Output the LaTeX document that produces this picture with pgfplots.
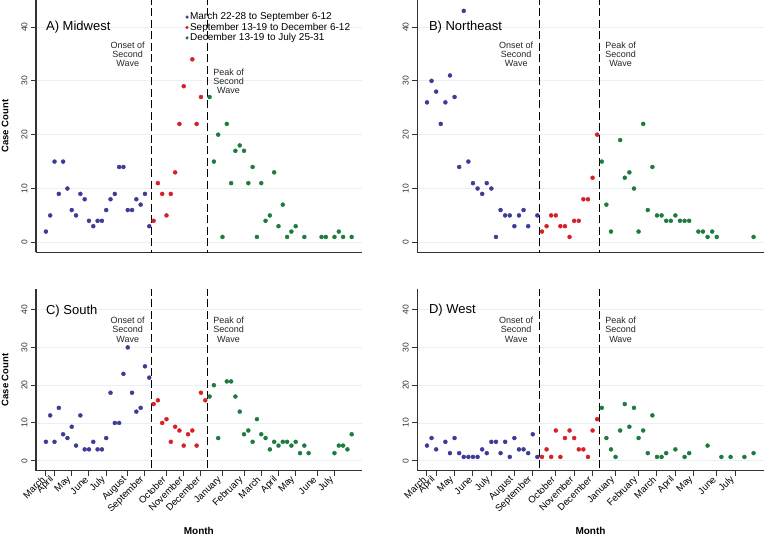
\documentclass[border=0pt]{standalone}
\usepackage{fontspec}
\setmainfont{Liberation Sans}
\usepackage{pgfplots}
\pgfplotsset{compat=1.18}
\definecolor{cblue}{RGB}{60,60,150}
\definecolor{cred}{RGB}{214,32,40}
\definecolor{cgreen}{RGB}{30,123,63}
\definecolor{gridc}{RGB}{232,240,242}
\definecolor{axc}{RGB}{50,50,50}

\tikzset{
  wave/.style={black, line width=1.4pt, dash pattern=on 8pt off 3.5pt},
  ann/.style={align=center, font=\fontsize{9}{9.3}\selectfont, text=black!85},
  ttl/.style={anchor=west, inner sep=0pt, font=\fontsize{13}{14}\selectfont},
}
\pgfplotsset{
  panel/.style={
    scale only axis,
    axis x line*=bottom, axis y line*=left,
    axis line style={axc, line width=1.2pt},
    every tick/.style={axc, line width=1pt},
    tick align=outside, major tick length=5pt,
    ytick={0,10,20,30,40},
    ymajorgrids, grid style={gridc, line width=0.8pt},
    /pgf/number format/assume math mode=true,
    yticklabel style={rotate=90, anchor=south, font=\fontsize{8.5}{9}\selectfont, text=axc},
  },
  toprow/.style={panel, ymin=-1.85, ymax=45, height=252.2pt, xtick=\empty},
  botrow/.style={panel, ymin=-2.65, ymax=45.4, height=181.4pt,
     xtick={0,2,6,10,14,19,23,28,32,36,41,46,50,54,58,63,67},
     xticklabels={March,April,May,June,July,August,September,October,November,December,January,February,March,April,May,June,July},
     xticklabel style={rotate=45, anchor=east, font=\fontsize{9.5}{10}\selectfont},
     xlabel={Month},
     xlabel style={font=\bfseries\fontsize{10}{12}\selectfont, at={(axis description cs:0.5,-0.332)}, anchor=center},
  },
  leftcol/.style={xmin=-2.3, xmax=73.3, width=325.6pt,
     ylabel={Case Count},
     ylabel style={font=\bfseries\fontsize{9.5}{11}\selectfont, at={(axis description cs:-0.095,0.5)}, anchor=center}},
  rightcol/.style={xmin=-2.1, xmax=73.2, width=346.4pt},
  ser/.style={only marks, mark=*, mark size=2pt, draw=#1, fill=#1, mark options={draw=#1, fill=#1}},
}

\begin{document}
\begin{tikzpicture}[x=1pt,y=1pt]
\useasboundingbox (0,0) rectangle (765,536);

% ---------------- A) Midwest
\begin{axis}[toprow, leftcol, at={(36pt,283.7pt)}, anchor=south west,
  legend style={draw=none, fill=none, at={(0.459,0.954)}, anchor=north west, inner sep=0pt,
     font=\fontsize{10}{10}\selectfont, nodes={inner sep=0.6pt, text height=7.3pt, text depth=1.9pt, anchor=west},
     row sep=0pt, column sep=1pt},
  legend cell align=left,
  legend image code/.code={\draw[#1, mark size=1.4pt] plot coordinates {(0pt,0pt)};}]
\addplot[ser=cblue] coordinates {(0,2)(1,5)(2,15)(3,9)(4,15)(5,10)(6,6)(7,5)(8,9)(9,8)(10,4)(11,3)(12,4)(13,4)(14,6)(15,8)(16,9)(17,14)(18,14)(19,6)(20,6)(21,8)(22,7)(23,9)(24,3)};
\addlegendentry{March 22-28 to September 6-12}
\addplot[ser=cred] coordinates {(25,4)(26,11)(27,9)(28,5)(29,9)(30,13)(31,22)(32,29)(34,34)(35,22)(36,27)};
\addlegendentry{September 13-19 to December 6-12}
\addplot[ser=cgreen] coordinates {(38,27)(39,15)(40,20)(41,1)(42,22)(43,11)(44,17)(45,18)(46,17)(47,11)(48,14)(49,1)(50,11)(51,4)(52,5)(53,13)(54,3)(55,7)(56,1)(57,2)(58,3)(60,1)(64,1)(65,1)(67,1)(68,2)(69,1)(71,1)};
\addlegendentry{December 13-19 to July 25-31}
\draw[wave] (axis cs:24.5,-5) -- (axis cs:24.5,50);
\draw[wave] (axis cs:37.5,-5) -- (axis cs:37.5,50);
\node[ttl] at (axis cs:0,40) {A) Midwest};
\node[ann] at (axis cs:19.0,34.9) {Onset of\\Second\\Wave};
\node[ann] at (axis cs:42.4,29.9) {Peak of\\Second\\Wave};
\end{axis}

% ---------------- B) Northeast
\begin{axis}[toprow, rightcol, at={(417.3pt,283.7pt)}, anchor=south west]
\addplot[ser=cblue] coordinates {(0,26)(1,30)(2,28)(3,22)(4,26)(5,31)(6,27)(7,14)(8,43)(9,15)(10,11)(11,10)(12,9)(13,11)(14,10)(15,1)(16,6)(17,5)(18,5)(19,3)(20,5)(21,6)(22,3)(24,5)};
\addplot[ser=cred] coordinates {(25,2)(26,3)(27,5)(28,5)(29,3)(30,3)(31,1)(32,4)(33,4)(34,8)(35,8)(36,12)(37,20)};
\addplot[ser=cgreen] coordinates {(38,15)(39,7)(40,2)(42,19)(43,12)(44,13)(45,10)(46,2)(47,22)(48,6)(49,14)(50,5)(51,5)(52,4)(53,4)(54,5)(55,4)(56,4)(57,4)(59,2)(60,2)(61,1)(62,2)(63,1)(71,1)};
\draw[wave] (axis cs:24.5,-5) -- (axis cs:24.5,50);
\draw[wave] (axis cs:37.5,-5) -- (axis cs:37.5,50);
\node[ttl] at (axis cs:0.4,40) {B) Northeast};
\node[ann] at (axis cs:19.4,34.9) {Onset of\\Second\\Wave};
\node[ann] at (axis cs:42.1,34.9) {Peak of\\Second\\Wave};
\end{axis}

% ---------------- C) South
\begin{axis}[botrow, leftcol, at={(36pt,65.3pt)}, anchor=south west]
\addplot[ser=cblue] coordinates {(0,5)(1,12)(2,5)(3,14)(4,7)(5,6)(6,9)(7,4)(8,12)(9,3)(10,3)(11,5)(12,3)(13,3)(14,6)(15,18)(16,10)(17,10)(18,23)(19,30)(20,18)(21,13)(22,14)(23,25)(24,22)};
\addplot[ser=cred] coordinates {(25,15)(26,16)(27,10)(28,11)(29,5)(30,9)(31,8)(32,4)(33,7)(34,8)(35,4)(36,18)(37,16)};
\addplot[ser=cgreen] coordinates {(38,17)(39,20)(40,6)(42,21)(43,21)(44,17)(45,13)(46,7)(47,8)(48,5)(49,11)(50,7)(51,6)(52,3)(53,5)(54,4)(55,5)(56,5)(57,4)(58,5)(59,2)(60,4)(61,2)(67,2)(68,4)(69,4)(70,3)(71,7)};
\draw[wave] (axis cs:24.5,-5) -- (axis cs:24.5,50);
\draw[wave] (axis cs:37.5,-5) -- (axis cs:37.5,50);
\node[ttl] at (axis cs:0,39.7) {C) South};
\node[ann] at (axis cs:19.0,34.7) {Onset of\\Second\\Wave};
\node[ann] at (axis cs:42.4,34.7) {Peak of\\Second\\Wave};
\end{axis}

% ---------------- D) West
\begin{axis}[botrow, rightcol, at={(417.3pt,65.3pt)}, anchor=south west]
\addplot[ser=cblue] coordinates {(0,4)(1,6)(2,3)(4,5)(5,2)(6,6)(7,2)(8,1)(9,1)(10,1)(11,1)(12,3)(13,2)(14,5)(15,5)(16,2)(17,5)(18,1)(19,6)(20,3)(21,3)(22,2)(23,7)(24,1)};
\addplot[ser=cred] coordinates {(25,1)(26,3)(27,1)(28,8)(29,1)(30,6)(31,8)(32,6)(33,3)(34,3)(35,1)(36,8)(37,11)};
\addplot[ser=cgreen] coordinates {(38,14)(39,6)(40,3)(41,1)(42,8)(43,15)(44,9)(45,14)(46,6)(47,8)(48,2)(49,12)(50,1)(51,1)(52,2)(54,3)(56,1)(57,2)(61,4)(64,1)(66,1)(69,1)(71,2)};
\draw[wave] (axis cs:24.5,-5) -- (axis cs:24.5,50);
\draw[wave] (axis cs:37.5,-5) -- (axis cs:37.5,50);
\node[ttl] at (axis cs:0.4,40) {D) West};
\node[ann] at (axis cs:19.4,34.7) {Onset of\\Second\\Wave};
\node[ann] at (axis cs:42.1,34.7) {Peak of\\Second\\Wave};
\end{axis}
\end{tikzpicture}
\end{document}
